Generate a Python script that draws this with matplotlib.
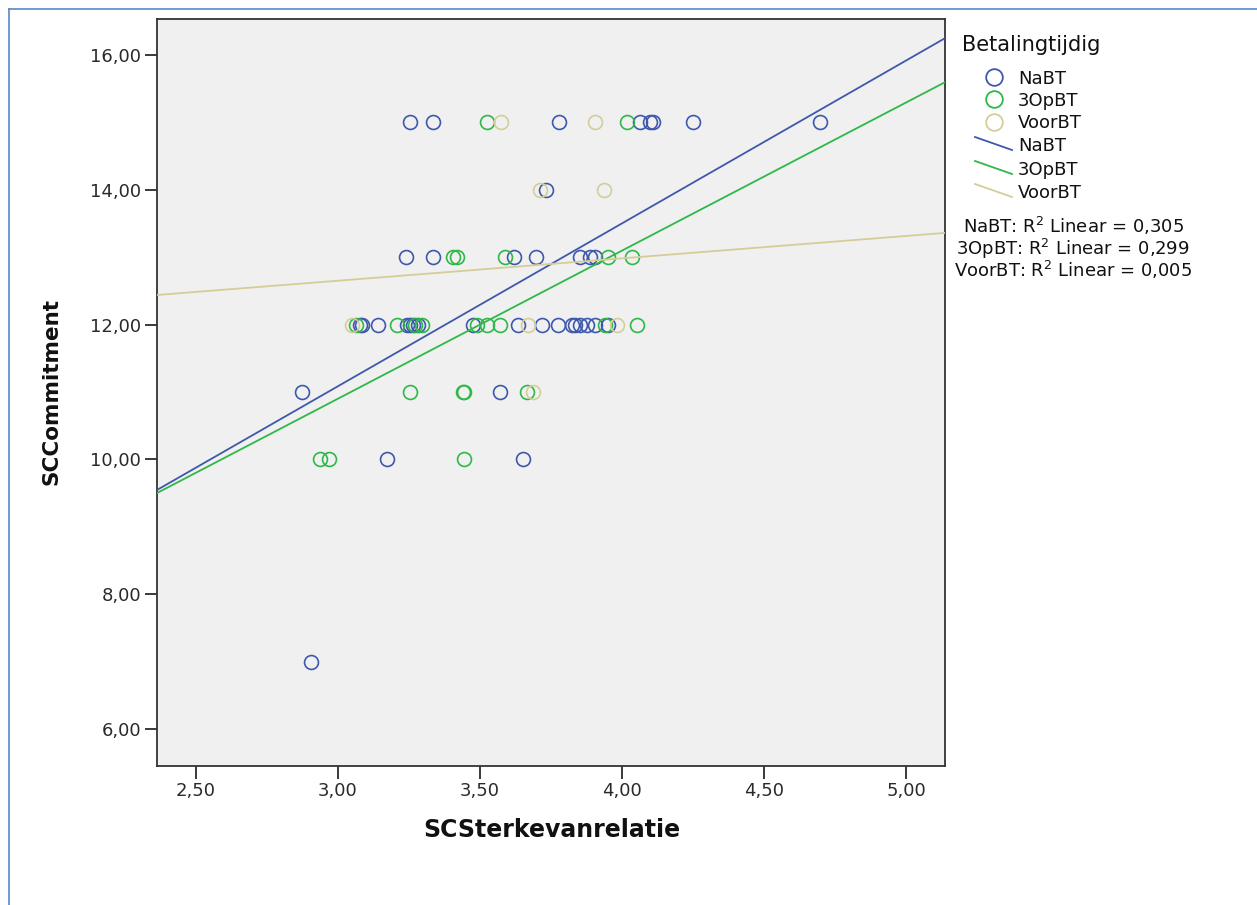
import numpy as np
import matplotlib.pyplot as plt
from matplotlib.lines import Line2D
from matplotlib.ticker import FuncFormatter

W, H = 1257, 905

groups = ['NaBT', '3OpBT', 'VoorBT']
colors = ['#3E58AC', '#2EB848', '#D3CE97']

# SCSterkevanrelatie / SCCommitment per groep
nabt_x = [3.254, 3.335, 3.778, 4.063, 4.099, 4.109, 4.250, 4.697,
          3.732,
          3.239, 3.335, 3.620, 3.697, 3.852, 3.887, 3.905,
          3.077, 3.085, 3.141, 3.243, 3.254, 3.264, 3.282, 3.475, 3.634,
          3.718, 3.775, 3.824, 3.835, 3.852, 3.877, 3.905, 3.951,
          2.873, 3.570,
          3.173, 3.651,
          2.905]
nabt_y = [15, 15, 15, 15, 15, 15, 15, 15,
          14,
          13, 13, 13, 13, 13, 13, 13,
          12, 12, 12, 12, 12, 12, 12, 12, 12,
          12, 12, 12, 12, 12, 12, 12, 12,
          11, 11,
          10, 10,
          7]

opbt_x = [3.525, 4.018,
          3.405, 3.419, 3.588, 3.951, 4.035,
          3.063, 3.208, 3.271, 3.296, 3.489, 3.525, 3.570, 3.940, 4.053,
          3.254, 3.440, 3.444, 3.665,
          2.937, 2.968, 3.444]
opbt_y = [15, 15,
          13, 13, 13, 13, 13,
          12, 12, 12, 12, 12, 12, 12, 12, 12,
          11, 11, 11, 11,
          10, 10, 10]

voorbt_x = [3.574, 3.905, 3.711, 3.937, 3.049, 3.669, 3.982, 3.687]
voorbt_y = [15, 15, 14, 14, 12, 12, 12, 11]

# lineaire fit per groep
fit_slope = [2.416, 2.197, 0.332]
fit_intercept = [3.838, 4.310, 11.655]
r2_text = ['0,305', '0,299', '0,005']

xs = [nabt_x, opbt_x, voorbt_x]
ys = [nabt_y, opbt_y, voorbt_y]


def px(x, y):
    return x / W, 1 - y / H


fig = plt.figure(figsize=(W / 100, H / 100), dpi=100)
plt.rcParams['font.family'] = 'DejaVu Sans'

ax = fig.add_axes([157 / W, 1 - 766 / H, (945 - 157) / W, (766 - 19) / H])
ax.set_facecolor('#F0F0F0')
xlim = (2.3627, 5.137)
ax.set_xlim(*xlim)
ax.set_ylim(5.451, 16.534)

for k in range(3):
    ax.plot(xs[k], ys[k], 'o', mfc='none', mec=colors[k], ms=10, mew=1.2, zorder=2)

xl = np.array(xlim)
for k in range(3):
    ax.plot(xl, fit_intercept[k] + fit_slope[k] * xl, color=colors[k], lw=1.3, zorder=3)

fmt = FuncFormatter(lambda v, p: ('%.2f' % v).replace('.', ','))
ax.set_xticks([2.5, 3.0, 3.5, 4.0, 4.5, 5.0])
ax.set_yticks([6, 8, 10, 12, 14, 16])
ax.xaxis.set_major_formatter(fmt)
ax.yaxis.set_major_formatter(fmt)
ax.tick_params(direction='out', length=9, width=1.3, labelsize=13, colors='#2a2a2a', pad=2.5)
for s in ax.spines.values():
    s.set_color('#333333')
    s.set_linewidth(1.3)

fig.text(*px(52, 391), 'SCCommitment', rotation=90, ha='center', va='center',
         fontsize=15.5, fontweight='bold', color='#111111')
fig.text(*px(552, 837), 'SCSterkevanrelatie', ha='center', va='baseline',
         fontsize=17, fontweight='bold', color='#111111')

# legende
fig.text(*px(962, 51), 'Betalingtijdig', fontsize=15, va='baseline', color='#111111')
marker_y = [77, 99, 122]
for k in range(3):
    fig.add_artist(Line2D([994 / W], [1 - marker_y[k] / H], marker='o', ms=12, mfc='none',
                          mec=colors[k], mew=1.3, transform=fig.transFigure))
    fig.text(*px(1018, marker_y[k] + 6.5), groups[k], fontsize=13, va='baseline', color='#111111')
line_y = [137, 161, 184]
for k in range(3):
    x0, y0 = px(975, line_y[k])
    x1, y1 = px(1012, line_y[k] + 13)
    fig.add_artist(Line2D([x0, x1], [y0, y1], color=colors[k], lw=1.3, transform=fig.transFigure))
    fig.text(*px(1018, line_y[k] + 14), groups[k], fontsize=13, va='baseline', color='#111111')
r2_y = [233, 255, 277]
for k in range(3):
    fig.text(*px(1073, r2_y[k]), groups[k] + ': R$^2$ Linear = ' + r2_text[k],
             fontsize=13, ha='center', va='baseline', color='#111111')

# blauwe kader
fig.add_artist(Line2D([8.5 / W, 8.5 / W], [1 - 9.5 / H, 0], color='#5A85C8', lw=1.2,
                      transform=fig.transFigure))
fig.add_artist(Line2D([8.5 / W, 1], [1 - 9.5 / H, 1 - 9.5 / H], color='#5A85C8', lw=1.2,
                      transform=fig.transFigure))

fig.savefig('out.png', dpi=100)
